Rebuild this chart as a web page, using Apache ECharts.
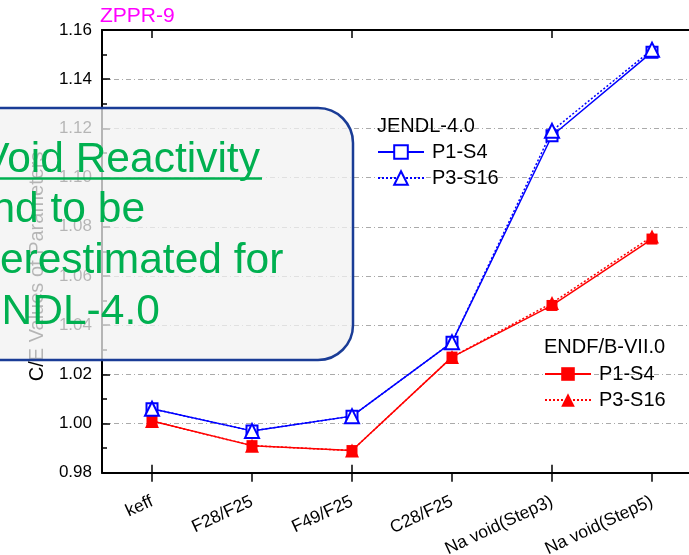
<!DOCTYPE html>
<html>
<head>
<meta charset="utf-8">
<script src="https://cdn.jsdelivr.net/npm/echarts@6/dist/echarts.min.js"></script>
<style>
html,body{margin:0;padding:0;background:#fff;overflow:hidden;width:689px;height:555px;}
#chart{width:720px;height:555px;}
</style>
</head>
<body>
<div id="chart"></div>
<script>
const categories = ['keff', 'F28/F25', 'F49/F25', 'C28/F25', 'Na void(Step3)', 'Na void(Step5)'];
const jendlP1S4 = [1.006, 0.997, 1.003, 1.033, 1.117, 1.151];
const jendlP3S16 = [1.006, 0.997, 1.003, 1.033, 1.119, 1.152];
const endfP1S4 = [1.001, 0.991, 0.989, 1.027, 1.048, 1.075];
const endfP3S16 = [1.001, 0.991, 0.989, 1.027, 1.049, 1.076];
const yMin = 0.98, yMax = 1.16, yStep = 0.02;
const chartTitle = 'ZPPR-9';
const yName = 'C/E Values of Parameters';
const group1 = 'JENDL-4.0';
const group2 = 'ENDF/B-VII.0';
const noteLine1 = 'Na Void Reactivity';
const noteLines = ['tend to be', 'overestimated for', 'JENDL-4.0'];

const FONT = 'Liberation Sans, Arial, sans-serif';
const BLUE = '#0000ff', RED = '#ff0000', GREEN = '#00b050';

const chart = echarts.init(document.getElementById('chart'), null, {renderer: 'canvas'});

const catAxisBase = {
  type: 'category',
  data: categories,
  gridIndex: 0,
  boundaryGap: true,
};

const option = {
  backgroundColor: '#fff',
  animation: false,
  grid: {left: 102, top: 30, width: 600, height: 442.7, containLabel: false, outerBoundsMode: 'none'},
  xAxis: [
    Object.assign({}, catAxisBase, {
      position: 'bottom',
      axisLine: {show: true, lineStyle: {color: '#000', width: 2}},
      axisTick: {show: true, alignWithLabel: true, inside: false, length: 9, lineStyle: {color: '#000', width: 1.5}},
      axisLabel: {show: true, rotate: 25, margin: 28, fontSize: 17.5, color: '#000', fontFamily: FONT, interval: 0},
      splitLine: {show: false}
    }),
    Object.assign({}, catAxisBase, {
      position: 'bottom',
      axisLine: {show: false},
      axisTick: {show: true, alignWithLabel: true, inside: true, length: 8, lineStyle: {color: '#000', width: 1.5}},
      axisLabel: {show: false},
      splitLine: {show: false}
    }),
    Object.assign({}, catAxisBase, {
      position: 'top',
      axisLine: {show: true, lineStyle: {color: '#000', width: 2}},
      axisTick: {show: true, alignWithLabel: true, inside: true, length: 8, lineStyle: {color: '#000', width: 1.5}},
      axisLabel: {show: false},
      splitLine: {show: false}
    })
  ],
  yAxis: {
    type: 'value',
    min: yMin, max: yMax, interval: yStep,
    name: yName,
    nameLocation: 'middle',
    nameGap: 55,
    nameTextStyle: {fontSize: 20, color: '#000', fontFamily: FONT, padding: [0, 30, 0, 0]},
    axisLine: {show: true, lineStyle: {color: '#000', width: 2}},
    axisTick: {show: true, inside: true, length: 8, lineStyle: {color: '#000', width: 1.5}},
    minorTick: {show: true, splitNumber: 2, length: 5, lineStyle: {color: '#000', width: 1.5}},
    axisLabel: {fontSize: 17, color: '#000', fontFamily: FONT, margin: 10, formatter: v => v.toFixed(2)},
    splitLine: {show: true, lineStyle: {color: '#aaa', width: 1, type: [5, 3, 1, 3]}}
  },
  legend: [
    {
      orient: 'vertical', left: 377, top: 142, padding: 0,
      itemWidth: 46, itemHeight: 17, itemGap: 6,
      data: ['JENDL-4.0 P1-S4', 'JENDL-4.0 P3-S16'],
      formatter: n => n.split(' ')[1],
      textStyle: {fontSize: 20, color: '#000', fontFamily: FONT, lineHeight: 20, padding: [0, 0, 0, 3]}
    },
    {
      orient: 'vertical', left: 544, top: 364, padding: 0,
      itemWidth: 46, itemHeight: 17, itemGap: 6,
      data: ['ENDF/B-VII.0 P1-S4', 'ENDF/B-VII.0 P3-S16'],
      formatter: n => n.split(' ')[1],
      textStyle: {fontSize: 20, color: '#000', fontFamily: FONT, lineHeight: 20, padding: [0, 0, 0, 3]}
    }
  ],
  series: [
    {
      name: 'ENDF/B-VII.0 P1-S4', type: 'line', data: endfP1S4,
      symbol: 'rect', symbolSize: 11,
      lineStyle: {color: RED, width: 1.5, type: 'solid'},
      itemStyle: {color: RED}
    },
    {
      name: 'ENDF/B-VII.0 P3-S16', type: 'line', data: endfP3S16,
      symbol: 'triangle', symbolSize: 14,
      lineStyle: {color: RED, width: 1.5, type: [2, 2]},
      itemStyle: {color: RED}
    },
    {
      name: 'JENDL-4.0 P1-S4', type: 'line', data: jendlP1S4,
      symbol: 'emptyRect', symbolSize: 11,
      lineStyle: {color: BLUE, width: 1.5, type: 'solid'},
      itemStyle: {color: BLUE, borderColor: BLUE, borderWidth: 1.5}
    },
    {
      name: 'JENDL-4.0 P3-S16', type: 'line', data: jendlP3S16,
      symbol: 'emptyTriangle', symbolSize: 14,
      lineStyle: {color: BLUE, width: 1.5, type: [2, 2]},
      itemStyle: {color: BLUE, borderColor: BLUE, borderWidth: 1.5}
    }
  ],
  graphic: [
    {type: 'text', left: 100, top: 6, z: 50,
     style: {text: chartTitle, fill: '#ff00ff', font: '21px ' + FONT}},
    {type: 'text', x: 377, y: 126, z: 50,
     style: {text: group1, fill: '#000', font: '20px ' + FONT, verticalAlign: 'middle', align: 'left'}},
    {type: 'text', x: 544, y: 347, z: 50,
     style: {text: group2, fill: '#000', font: '20px ' + FONT, verticalAlign: 'middle', align: 'left'}},
    {type: 'rect', z: 100,
     shape: {x: -40, y: 108, width: 393, height: 252, r: 35},
     style: {fill: 'rgba(242,242,242,0.75)', stroke: '#1a3c96', lineWidth: 2.5}},
    {type: 'text', x: -85, y: 160.5, z: 101,
     style: {text: noteLine1, fill: GREEN, font: '42.5px ' + FONT, verticalAlign: 'middle', align: 'left'}},
    {type: 'line', z: 101,
     shape: {x1: -85, y1: 178.5, x2: 262, y2: 178.5},
     style: {stroke: GREEN, lineWidth: 2.5}},
    {type: 'text', x: -44, y: 210.5, z: 101,
     style: {text: noteLines[0], fill: GREEN, font: '42.5px ' + FONT, verticalAlign: 'middle', align: 'left'}},
    {type: 'text', x: -45, y: 261.5, z: 101,
     style: {text: noteLines[1], fill: GREEN, font: '42.5px ' + FONT, verticalAlign: 'middle', align: 'left'}},
    {type: 'text', x: -48, y: 312, z: 101,
     style: {text: noteLines[2], fill: GREEN, font: '42.5px ' + FONT, verticalAlign: 'middle', align: 'left'}}
  ]
};
chart.setOption(option);
</script>
</body>
</html>
